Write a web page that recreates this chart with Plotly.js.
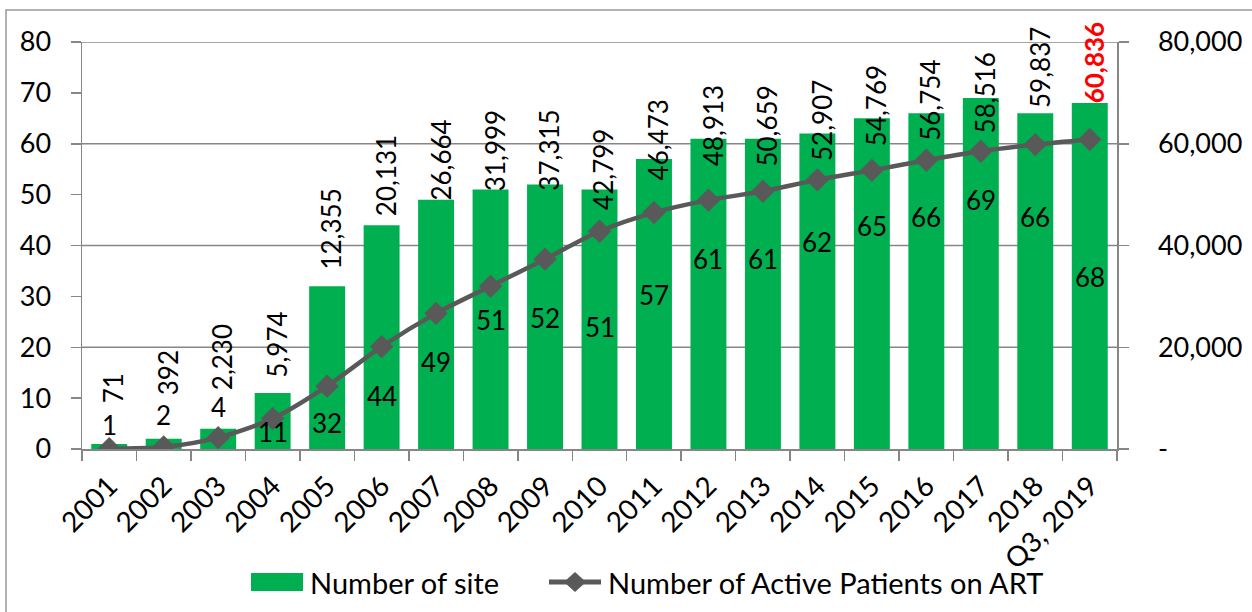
<!DOCTYPE html>
<html>
<head>
<meta charset="utf-8">
<script src="https://cdn.plot.ly/plotly-3.0.1.min.js"></script>
<style>html,body{margin:0;padding:0;background:#fff;}#chart{width:1252px;height:612px;}</style>
</head>
<body>
<div id="chart"></div>
<script>
const categories = ["2001","2002","2003","2004","2005","2006","2007","2008","2009","2010","2011","2012","2013","2014","2015","2016","2017","2018","Q3, 2019"];
const sites = [1,2,4,11,32,44,49,51,52,51,57,61,61,62,65,66,69,66,68];
const patients = [71,392,2230,5974,12355,20131,26664,31999,37315,42799,46473,48913,50659,52907,54769,56754,58516,59837,60836];
const siteLabelY = [4.7,6.7,8.3,3.3,5.1,10.4,17.1,25.4,25.7,24,30.3,37.3,37.3,40.7,43.8,45.6,48.9,45.6,33.8];
const patientLabelY = [8650,10220,11200,13560,34800,45400,48350,50300,50300,46600,52500,55200,55200,56200,59200,60150,61700,66600,67600];
const leftTicks = [0,10,20,30,40,50,60,70,80];
const rightTicks = [0,20000,40000,60000,80000];
const rightTickText = ["-","20,000","40,000","60,000","80,000"];
const seriesNames = ["Number of site","Number of Active Patients on ART"];

const FONT = "Lato, 'Open Sans', sans-serif";
const FS = 26;
const AX = "#868686";
const GREEN = "#00B050";
const GRAY = "#595959";

const fmt = v => v.toLocaleString("en-US");
// plot area in pixels: x 82..1117, y 42..449
const px = x => (x-82)/1035;
const py = y => (449-y)/407;

const traces = [
  {type:"bar", name:seriesNames[0], x:categories, y:sites, yaxis:"y",
   marker:{color:GREEN}, hoverinfo:"skip", showlegend:false},
  {type:"scatter", mode:"lines+markers", name:seriesNames[1],
   x:categories, y:patients, yaxis:"y2",
   line:{color:GRAY, width:4.5, shape:"spline", smoothing:0.8},
   marker:{symbol:"diamond", size:18, color:GRAY}, hoverinfo:"skip", showlegend:false}
];

const annotations = [];
categories.forEach((c,i)=>{
  annotations.push({x:i, y:siteLabelY[i], xref:"x", yref:"y", text:String(sites[i]),
    showarrow:false, font:{family:FONT, size:FS, color:"#000"}});
  const last = i === categories.length-1;
  annotations.push({x:i, y:patientLabelY[i], xref:"x", yref:"y2", text: last ? "<b>"+fmt(patients[i])+"</b>" : fmt(patients[i]),
    showarrow:false, textangle:-90, yanchor:"bottom", xshift:4,
    font:{family:FONT, size:FS, color: last ? "#FF0000" : "#000"}});
});
// custom legend texts
annotations.push({xref:"paper", yref:"paper", x:px(308), y:py(582), xanchor:"left", yanchor:"middle",
  text:seriesNames[0], showarrow:false, font:{family:FONT, size:29, color:"#000"}});
annotations.push({xref:"paper", yref:"paper", x:px(606), y:py(582), xanchor:"left", yanchor:"middle",
  text:seriesNames[1], showarrow:false, font:{family:FONT, size:29, color:"#000"}});

const shapes = rightTicks.filter(v=>v>0).map(v=>({type:"line", xref:"paper", yref:"y2", x0:0, x1:1, y0:v, y1:v,
  line:{color:AX, width:1.5}, layer:"below"}));
shapes.push({type:"rect", xref:"paper", yref:"paper", x0:px(6), x1:px(1270), y0:py(630), y1:py(10),
  line:{color:"#999", width:1.5}, fillcolor:"rgba(0,0,0,0)", layer:"below"});
// custom legend symbols
shapes.push({type:"rect", xref:"paper", yref:"paper", x0:px(251), x1:px(303), y0:py(591), y1:py(573),
  line:{width:0}, fillcolor:GREEN});
shapes.push({type:"line", xref:"paper", yref:"paper", x0:px(549), x1:px(601), y0:py(582), y1:py(582),
  line:{color:GRAY, width:5}});
shapes.push({type:"path", xref:"paper", yref:"paper",
  path:`M ${px(575)} ${py(572)} L ${px(586)} ${py(582)} L ${px(575)} ${py(592)} L ${px(564)} ${py(582)} Z`,
  line:{width:0}, fillcolor:GRAY});

const layout = {
  width:1252, height:612,
  margin:{l:82, r:135, t:42, b:163},
  paper_bgcolor:"#fff", plot_bgcolor:"#fff",
  font:{family:FONT, size:FS, color:"#000"},
  bargap:0.34,
  showlegend:false,
  xaxis:{type:"category", range:[-0.5, categories.length-0.5], tickangle:-45, ticks:"outside", ticklen:10, tickcolor:AX, tickwidth:1.5,
    tickson:"boundaries", showline:true, linecolor:AX, linewidth:1.5, showgrid:false, ticklabelstandoff:8,
    tickfont:{family:FONT, size:28}, fixedrange:true},
  yaxis:{range:[0,80], tickvals:leftTicks, ticks:"outside", ticklen:10, tickcolor:AX, tickwidth:1.5,
    showline:true, linecolor:AX, linewidth:1.5, showgrid:false, zeroline:false,
    ticklabelstandoff:14, tickfont:{family:FONT, size:27}},
  yaxis2:{range:[0,80000], overlaying:"y", side:"right", tickvals:rightTicks, ticktext:rightTickText,
    ticks:"outside", ticklen:10, tickcolor:AX, tickwidth:1.5, showline:true, linecolor:AX, linewidth:1.5,
    showgrid:false, zeroline:false, ticklabelstandoff:24, tickfont:{family:FONT, size:27}},
  annotations:annotations,
  shapes:shapes
};

Plotly.newPlot("chart", traces, layout, {displayModeBar:false, staticPlot:true});
</script>
</body>
</html>
